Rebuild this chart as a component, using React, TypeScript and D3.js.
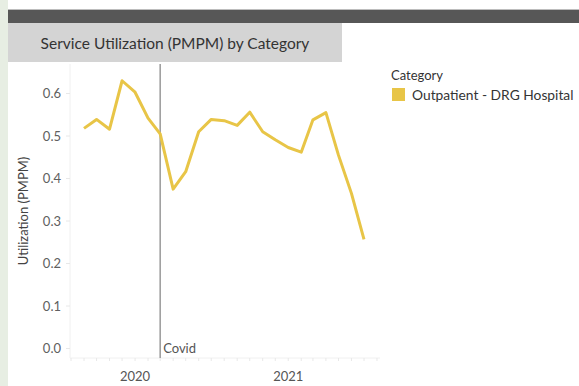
import React from "react";
import * as d3 from "d3";

const months = [
  "2019-09", "2019-10", "2019-11", "2019-12",
  "2020-01", "2020-02", "2020-03", "2020-04", "2020-05", "2020-06",
  "2020-07", "2020-08", "2020-09", "2020-10", "2020-11", "2020-12",
  "2021-01", "2021-02", "2021-03", "2021-04", "2021-05", "2021-06", "2021-07",
];
const utilization = [
  0.518, 0.539, 0.516, 0.630, 0.603, 0.542, 0.505, 0.375, 0.416, 0.510,
  0.539, 0.536, 0.525, 0.556, 0.510, 0.491, 0.473, 0.462, 0.538, 0.555,
  0.455, 0.365, 0.257,
];
const yTicks = [0, 0.1, 0.2, 0.3, 0.4, 0.5, 0.6];
const yearTicks = ["2020-01", "2021-01"];
const covidMonth = "2020-03";
const category = "Outpatient - DRG Hospital";

const FONT = "Lato, 'Open Sans', sans-serif";
const LINE_COLOR = "#e8c547";

const parse = (s: string) => d3.utcParse("%Y-%m")(s) as Date;

export default function App() {
  const W = 579, H = 386;
  const x = d3.scaleUtc()
    .domain([parse(months[0]), parse(months[months.length - 1])])
    .range([84, 364]);
  const y = d3.scaleLinear().domain([0, 0.6]).range([348.5, 93.5]);
  const plotTop = 64, plotBottom = 358, plotLeft = 70, plotRight = 380;

  const data = months.map((m, i) => ({ d: parse(m), v: utilization[i] }));
  const line = d3.line<{ d: Date; v: number }>()
    .x((p) => x(p.d))
    .y((p) => y(p.v));

  const covidX = x(parse(covidMonth));
  const monthTicks = d3.utcMonths(parse("2019-08"), parse("2021-09"));

  return (
    <svg width={W} height={H} style={{ position: "absolute", left: 0, top: 0, display: "block" }}
      fontFamily={FONT}>
      <rect x={0} y={0} width={W} height={H} fill="#ffffff" />
      <rect x={0} y={0} width={8} height={H} fill="#e7eee3" />
      <rect x={8} y={9} width={W - 8} height={1} fill="#bdbdbd" />
      <rect x={8} y={10} width={W - 8} height={13} fill="#575757" />
      <rect x={8} y={23} width={334} height={39} fill="#d4d4d4" />
      <text x={175} y={49} textAnchor="middle" fontSize={15.5} fill="#333333">
        Service Utilization (PMPM) by Category
      </text>

      {/* plot frame */}
      <line x1={plotLeft} x2={plotLeft} y1={plotTop} y2={plotBottom} stroke="#f0f0f0" />
      <line x1={plotLeft} x2={plotRight} y1={plotBottom} y2={plotBottom} stroke="#f0f0f0" />
      {monthTicks.map((m, i) => (
        <line key={i} x1={x(m)} x2={x(m)} y1={plotBottom} y2={plotBottom + 3} stroke="#e8e8e8" />
      ))}

      {/* y axis */}
      {yTicks.map((t) => (
        <g key={t}>
          <line x1={plotLeft - 4} x2={plotLeft} y1={y(t)} y2={y(t)} stroke="#e8e8e8" />
          <text x={61} y={y(t) + 4.5} textAnchor="end" fontSize={13} fill="#606060">
            {d3.format(".1f")(t)}
          </text>
        </g>
      ))}
      <text transform={`translate(28, ${211}) rotate(-90)`} textAnchor="middle" fontSize={13} fill="#444444">
        Utilization (PMPM)
      </text>

      {/* x axis */}
      {yearTicks.map((t) => (
        <text key={t} x={x(parse(t))} y={381} textAnchor="middle" fontSize={13} fill="#555555">
          {d3.utcFormat("%Y")(parse(t))}
        </text>
      ))}

      {/* covid ref line */}
      <line x1={covidX} x2={covidX} y1={plotTop} y2={plotBottom} stroke="#999999" strokeWidth={1.5} />
      <text x={covidX + 3} y={353} fontSize={13} fill="#555555">Covid</text>

      {/* series */}
      <path d={line(data) || ""} fill="none" stroke={LINE_COLOR} strokeWidth={3} strokeLinejoin="round" />

      {/* legend */}
      <text x={391} y={80} fontSize={13} fill="#333333">Category</text>
      <rect x={392} y={88} width={13} height={13} fill={LINE_COLOR} />
      <text x={412} y={100} fontSize={13.8} fill="#333333">{category}</text>
    </svg>
  );
}
